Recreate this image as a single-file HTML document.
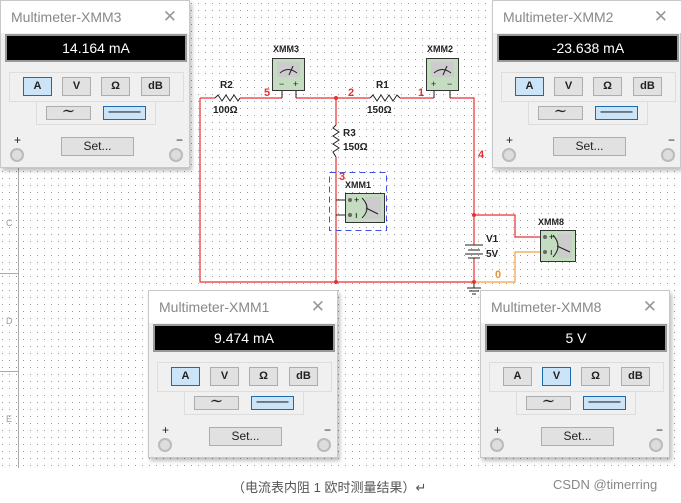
<!DOCTYPE html>
<html><head><meta charset="utf-8">
<style>
*{box-sizing:border-box;margin:0;padding:0}
body{width:681px;height:503px;background:#fff;position:relative;overflow:hidden;font-family:"Liberation Sans","Noto Sans CJK SC",sans-serif}
.p{position:absolute;width:190px;height:168px;background:#f0f0f0;border:1px solid #c8c8c8;box-shadow:2px 3px 4px rgba(0,0,0,.25)}
.p .t{position:absolute;left:0;top:0;width:188px;height:32px;background:#fff;color:#888;font-size:14px;line-height:32px;padding-left:10px}
.p .x{position:absolute;right:12px;top:0;font-size:17px;line-height:32px;color:#999;font-weight:100}
.p .d{position:absolute;left:4px;top:33px;width:182px;height:28px;background:#000;border:2px solid #999;color:#fff;font-size:14px;text-align:center;line-height:24px}
.p .g1{position:absolute;left:8px;top:71px;width:175px;height:30px;border:1px solid #ddd}
.p .g2{position:absolute;left:35px;top:101px;width:120px;height:23px;border:1px solid #ddd;border-top:none}
.b{position:absolute;height:19px;width:29px;background:#e1e1e1;border:1px solid #adadad;font-size:11px;font-weight:bold;text-align:center;line-height:17px;color:#222}
.b.on{background:#cce4f7;border-color:#1c6bb0}
.c{position:absolute;width:14px;height:14px;border-radius:50%;background:#ddd;border:2px solid #bbb}
.pl{position:absolute;font-size:12px;color:#222}
.w{position:absolute;top:105px;height:14px;line-height:10px;font-size:16px;font-weight:normal}
</style></head><body>
<svg width="681" height="503" style="position:absolute;left:0;top:0">
<defs><pattern id="dp" x="2" y="3" width="7" height="7" patternUnits="userSpaceOnUse"><rect width="1" height="1" fill="#999"/></pattern></defs>
<rect x="0" y="0" width="681" height="468" fill="url(#dp)"/>
<line x1="18.5" y1="0" x2="18.5" y2="468" stroke="#aaa"/>
<line x1="0" y1="273.5" x2="18" y2="273.5" stroke="#aaa"/>
<line x1="0" y1="371.5" x2="18" y2="371.5" stroke="#aaa"/>
<text x="6" y="226" font-size="9" fill="#999">C</text>
<text x="6" y="324" font-size="9" fill="#999">D</text>
<text x="6" y="422" font-size="9" fill="#999">E</text>
<g stroke="#e83030" stroke-width="1.2" fill="none">
<polyline points="200,98 200,282 474,282"/>
<line x1="200" y1="98" x2="215" y2="98"/>
<line x1="240" y1="98" x2="282" y2="98"/>
<line x1="296" y1="98" x2="370" y2="98"/>
<line x1="400" y1="98" x2="434" y2="98"/>
<polyline points="450,98 474,98 474,245"/>
<line x1="474" y1="258" x2="474" y2="282"/>
<line x1="336" y1="98" x2="336" y2="125"/>
<line x1="336" y1="157" x2="336" y2="282"/>
<polyline points="474,215 515,215 515,237 540,237"/>
</g>
<polyline points="474,282 515,282 515,252 540,252" stroke="#f0a040" stroke-width="1.2" fill="none"/>
<g stroke="#222" stroke-width="1" fill="none">
<polyline points="215,98 218,95 222,101 226,95 230,101 234,95 238,101 240,98"/>
<polyline points="370,98 373,95 377,101 381,95 385,101 389,95 393,101 397,95 400,98"/>
<polyline points="336,125 333,128 339,132 333,136 339,140 333,144 339,148 333,152 336,157"/>
<polyline points="282,98 282,84"/><polyline points="296,98 296,84"/>
<polyline points="434,98 434,84"/><polyline points="450,98 450,84"/>
<polyline points="336,200 350,200"/><polyline points="336,215 350,215"/>
<line x1="465" y1="245" x2="483" y2="245"/><line x1="468" y1="250" x2="480" y2="250"/>
<line x1="465" y1="254" x2="483" y2="254"/><line x1="468" y1="258" x2="480" y2="258"/>
<line x1="474" y1="282" x2="474" y2="288"/>
<line x1="467" y1="288" x2="481" y2="288"/><line x1="469" y1="291" x2="479" y2="291"/><line x1="472" y1="294" x2="476" y2="294"/>
</g>
<g fill="#e83030"><circle cx="336" cy="98" r="2"/><circle cx="336" cy="282" r="2"/><circle cx="474" cy="215" r="2"/><circle cx="474" cy="282" r="2"/></g>
<rect x="329.5" y="172.5" width="57" height="58" fill="none" stroke="#4050e0" stroke-dasharray="6,4"/>
<g>
<rect x="272.5" y="58.5" width="32" height="32" fill="#c4dcc0" stroke="#333"/>
<rect x="277" y="62" width="23" height="15" fill="#ccc"/>
<path d="M280 73 Q288 66 297 73" stroke="#222" fill="none"/><line x1="289" y1="75" x2="293" y2="66" stroke="#222"/>
<text x="279" y="87" font-size="9" fill="#222">−</text><text x="293" y="87" font-size="9" fill="#222">+</text>
<rect x="426.5" y="58.5" width="32" height="32" fill="#c4dcc0" stroke="#333"/>
<rect x="431" y="62" width="23" height="15" fill="#ccc"/>
<path d="M434 73 Q442 66 451 73" stroke="#222" fill="none"/><line x1="443" y1="75" x2="447" y2="66" stroke="#222"/>
<text x="431" y="87" font-size="9" fill="#222">+</text><text x="447" y="87" font-size="9" fill="#222">−</text>
</g>
<g>
<rect x="345.5" y="193.5" width="39" height="29" fill="#c4dcc0" stroke="#333"/>
<rect x="365" y="197" width="16" height="22" fill="#ccc"/>
<path d="M362 198 Q372 208 362 218" stroke="#222" fill="none"/><line x1="366" y1="208" x2="378" y2="214" stroke="#222"/>
<circle cx="350" cy="200" r="2" fill="#666"/><circle cx="350" cy="215" r="2" fill="#666"/>
<text x="354" y="203" font-size="9">+</text><text x="355" y="218" font-size="9">ı</text>
<rect x="540.5" y="230.5" width="35" height="31" fill="#c4dcc0" stroke="#333"/>
<rect x="557" y="234" width="15" height="24" fill="#ccc"/>
<path d="M553 235 Q563 246 553 257" stroke="#222" fill="none"/><line x1="557" y1="246" x2="570" y2="252" stroke="#222"/>
<circle cx="545" cy="237" r="2" fill="#666"/><circle cx="545" cy="252" r="2" fill="#666"/>
<text x="549" y="240" font-size="9">+</text><text x="550" y="255" font-size="9">ı</text>
</g>
<g font-size="10" font-weight="bold" fill="#222" font-family="Liberation Sans,sans-serif">
<text x="273" y="52" font-size="9">XMM3</text><text x="427" y="52" font-size="9">XMM2</text>
<text x="345" y="188" font-size="9">XMM1</text><text x="538" y="225" font-size="9">XMM8</text>
<text x="220" y="88">R2</text><text x="213" y="113">100Ω</text>
<text x="376" y="88">R1</text><text x="367" y="113">150Ω</text>
<text x="343" y="136">R3</text><text x="343" y="150">150Ω</text>
<text x="486" y="242">V1</text><text x="486" y="257">5V</text>
</g>
<g font-size="11" font-weight="bold" fill="#e83030">
<text x="264" y="96">5</text><text x="348" y="96">2</text><text x="418" y="96">1</text>
<text x="478" y="158">4</text><text x="339" y="180">3</text>
</g>
<text x="495" y="278" font-size="11" font-weight="bold" fill="#f09030">0</text>
</svg>

<div class="p" style="left:0;top:0;width:190px">
<div class="t">Multimeter-XMM3</div><div class="x">✕</div><div class="d">14.164 mA</div>
<div class="g1"></div><div class="g2"></div>
<div class="b on" style="left:22px;top:76px">A</div><div class="b" style="left:61px;top:76px">V</div><div class="b" style="left:100px;top:76px">Ω</div><div class="b" style="left:140px;top:76px">dB</div>
<div class="b w" style="left:45px;width:45px">∼</div><div class="b on w" style="left:102px;width:43px">——</div>
<div class="b" style="left:60px;top:136px;width:73px;height:19px;font-weight:normal;font-size:12px">Set...</div>
<div class="pl" style="left:13px;top:132px">+</div><div class="pl" style="left:175px;top:132px">−</div>
<div class="c" style="left:9px;top:147px"></div><div class="c" style="left:168px;top:147px"></div>
</div>

<div class="p" style="left:492px;top:0;width:189px">
<div class="t">Multimeter-XMM2</div><div class="x">✕</div><div class="d">-23.638 mA</div>
<div class="g1"></div><div class="g2"></div>
<div class="b on" style="left:22px;top:76px">A</div><div class="b" style="left:61px;top:76px">V</div><div class="b" style="left:100px;top:76px">Ω</div><div class="b" style="left:140px;top:76px">dB</div>
<div class="b w" style="left:45px;width:45px">∼</div><div class="b on w" style="left:102px;width:43px">——</div>
<div class="b" style="left:60px;top:136px;width:73px;height:19px;font-weight:normal;font-size:12px">Set...</div>
<div class="pl" style="left:13px;top:132px">+</div><div class="pl" style="left:175px;top:132px">−</div>
<div class="c" style="left:9px;top:147px"></div><div class="c" style="left:168px;top:147px"></div>
</div>

<div class="p" style="left:148px;top:290px">
<div class="t">Multimeter-XMM1</div><div class="x">✕</div><div class="d">9.474 mA</div>
<div class="g1"></div><div class="g2"></div>
<div class="b on" style="left:22px;top:76px">A</div><div class="b" style="left:61px;top:76px">V</div><div class="b" style="left:100px;top:76px">Ω</div><div class="b" style="left:140px;top:76px">dB</div>
<div class="b w" style="left:45px;width:45px">∼</div><div class="b on w" style="left:102px;width:43px">——</div>
<div class="b" style="left:60px;top:136px;width:73px;height:19px;font-weight:normal;font-size:12px">Set...</div>
<div class="pl" style="left:13px;top:132px">+</div><div class="pl" style="left:175px;top:132px">−</div>
<div class="c" style="left:9px;top:147px"></div><div class="c" style="left:168px;top:147px"></div>
</div>

<div class="p" style="left:480px;top:290px">
<div class="t">Multimeter-XMM8</div><div class="x">✕</div><div class="d">5 V</div>
<div class="g1"></div><div class="g2"></div>
<div class="b" style="left:22px;top:76px">A</div><div class="b on" style="left:61px;top:76px">V</div><div class="b" style="left:100px;top:76px">Ω</div><div class="b" style="left:140px;top:76px">dB</div>
<div class="b w" style="left:45px;width:45px">∼</div><div class="b on w" style="left:102px;width:43px">——</div>
<div class="b" style="left:60px;top:136px;width:73px;height:19px;font-weight:normal;font-size:12px">Set...</div>
<div class="pl" style="left:13px;top:132px">+</div><div class="pl" style="left:175px;top:132px">−</div>
<div class="c" style="left:9px;top:147px"></div><div class="c" style="left:168px;top:147px"></div>
</div>

<div style="position:absolute;left:232px;top:477px;font-size:13px;color:#555;white-space:nowrap">（电流表内阻 1 欧时测量结果）↵</div>
<div style="position:absolute;left:553px;top:477px;font-size:13px;color:#888;white-space:nowrap">CSDN @timerring</div>
</body></html>
